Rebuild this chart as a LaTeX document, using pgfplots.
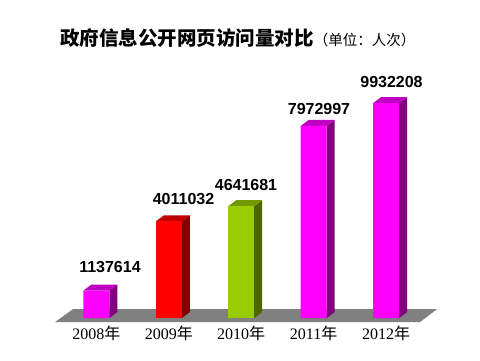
\documentclass[border=0pt]{standalone}
\usepackage{pgfplots}
\pgfplotsset{compat=1.18}
\usepackage{fontspec}
\setmainfont{Liberation Serif}
\newfontfamily\cjk{Noto Sans CJK SC}
\newfontfamily\arial{Liberation Sans}
\definecolor{mfront}{HTML}{FF00FF}
\definecolor{mtop}{HTML}{C000C0}
\definecolor{mside}{HTML}{800080}
\definecolor{rfront}{HTML}{FF0000}
\definecolor{rtop}{HTML}{C00000}
\definecolor{rside}{HTML}{800000}
\definecolor{gfront}{HTML}{99CC00}
\definecolor{gtop}{HTML}{739900}
\definecolor{gside}{HTML}{4D6600}
\definecolor{floorgray}{HTML}{808080}
\begin{document}
\begin{tikzpicture}
\begin{axis}[
  scale only axis, width=480pt, height=360pt,
  xmin=-1.3292, xmax=5.2960,
  ymin=-1742739, ymax=13195021,
  axis line style={draw=none},
  ytick=\empty, scaled y ticks=false,
  xtick={0,1,2,3,4},
  xticklabels={2008{\cjk 年},2009{\cjk 年},2010{\cjk 年},2011{\cjk 年},2012{\cjk 年}},
  major tick length=0pt,
  xticklabel style={font=\fontsize{16}{16}\selectfont, anchor=center, yshift=27pt},
  clip=false,
  title={{\cjk\bfseries\fontsize{19.5}{20}\selectfont 政府信息公开网页访问量对比}{\cjk\fontsize{14.5}{14.5}\selectfont （单位：人次）}},
  title style={at={(rel axis cs:0.4958,0.8790)}, anchor=center},
]
\path (rel axis cs:0,0) rectangle (rel axis cs:1,1);
% floor
\addplot[fill=floorgray, draw=none] coordinates {(-0.5700,-166000) (4.4679,-166000) (4.7026,373000) (-0.3216,373000)} -- cycle;
% side faces
\addplot[fill=mside, draw=none] coordinates {(0.1794,0) (0.2898,249000) (0.2898,1386614) (0.1794,1137614)} -- cycle;
\addplot[fill=rside, draw=none] coordinates {(1.1794,0) (1.2898,249000) (1.2898,4260032) (1.1794,4011032)} -- cycle;
\addplot[fill=gside, draw=none] coordinates {(2.1794,0) (2.2898,249000) (2.2898,4890681) (2.1794,4641681)} -- cycle;
\addplot[fill=mside, draw=none] coordinates {(3.1794,0) (3.2898,249000) (3.2898,8221997) (3.1794,7972997)} -- cycle;
\addplot[fill=mside, draw=none] coordinates {(4.1794,0) (4.2898,249000) (4.2898,9169000) (4.1794,8920000)} -- cycle;
% top faces
\addplot[fill=mtop, draw=none] coordinates {(-0.1794,1137614) (0.1794,1137614) (0.2898,1386614) (-0.0690,1386614)} -- cycle;
\addplot[fill=rtop, draw=none] coordinates {(0.8206,4011032) (1.1794,4011032) (1.2898,4260032) (0.9310,4260032)} -- cycle;
\addplot[fill=gtop, draw=none] coordinates {(1.8206,4641681) (2.1794,4641681) (2.2898,4890681) (1.9310,4890681)} -- cycle;
\addplot[fill=mtop, draw=none] coordinates {(2.8206,7972997) (3.1794,7972997) (3.2898,8221997) (2.9310,8221997)} -- cycle;
\addplot[fill=mtop, draw=none] coordinates {(3.8206,8920000) (4.1794,8920000) (4.2898,9169000) (3.9310,9169000)} -- cycle;
% front faces
\addplot[ybar, bar width=0.3589, bar shift=0, fill=mfront, draw=none] coordinates {(0,1137614) (3,7972997) (4,8920000)};
\addplot[ybar, bar width=0.3589, bar shift=0, fill=rfront, draw=none] coordinates {(1,4011032)};
\addplot[ybar, bar width=0.3589, bar shift=0, fill=gfront, draw=none] coordinates {(2,4641681)};
% value labels
\addplot[draw=none, mark=none, nodes near coords, point meta=explicit symbolic,
  every node near coord/.append style={anchor=center, inner sep=0pt, font=\arial\bfseries\fontsize{16}{16}\selectfont}]
  table[meta=label] {
x y label
0.189 2116000 1137614
1.2036 4938000 4011032
2.0663 5519000 4641681
3.0738 8672000 7972997
4.0745 9793000 9932208
};
\end{axis}
\end{tikzpicture}
\end{document}
